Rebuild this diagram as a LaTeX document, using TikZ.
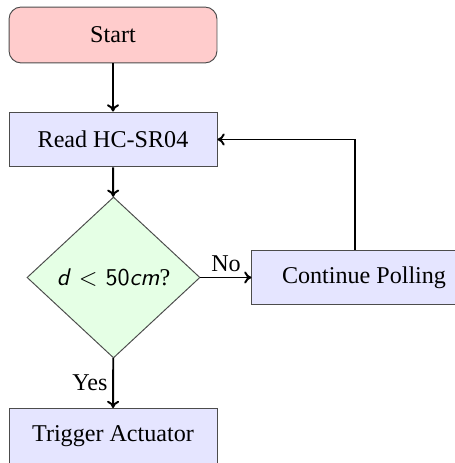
\documentclass[tikz,border=0pt]{standalone}
\usepackage{fontspec}
\setmainfont{Liberation Serif}
\usetikzlibrary{shapes.geometric,arrows.meta}
\begin{document}
\begin{tikzpicture}[x=0.415pt,y=-0.415pt,
  base/.style={draw=black!70,line width=0.4pt,inner sep=0pt,font=\normalsize},
  startbox/.style={base,rectangle,rounded corners=5pt,fill=red!20,
    minimum width=86.3pt,minimum height=23.2pt},
  procbox/.style={base,rectangle,fill=blue!10,
    minimum width=86.3pt,minimum height=22.8pt},
  decbox/.style={base,diamond,fill=green!10,
    minimum width=71.8pt,minimum height=66.8pt},
  flow/.style={draw=black,thick,-{To[length=3pt,width=5pt]}},
  lbl/.style={font=\normalsize,inner sep=2pt}
]
\useasboundingbox (0,0) rectangle (454,463);

\node[startbox] (start) at (113,35) {Start};
\node[procbox] (read) at (113,139.5) {Read HC-SR04};
\node[decbox] (dec) at (113.5,277.5) {\textsf{\textit{d}\,\,<\,\,50\textit{cm}}?};
\node[procbox,minimum width=93pt] (cont) at (364,277.5) {Continue Polling};
\node[procbox] (trig) at (113,436) {Trigger Actuator};

\draw[flow] (start) -- (read);
\draw[flow] (read) -- (dec);
\draw[flow] (dec) -- node[lbl,above] {No} (cont);
\draw[flow] (dec) -- node[lbl,left] {Yes} (trig);
\draw[flow] ([xshift=-3.7pt]cont.north) |- (read.east);
\end{tikzpicture}
\end{document}
